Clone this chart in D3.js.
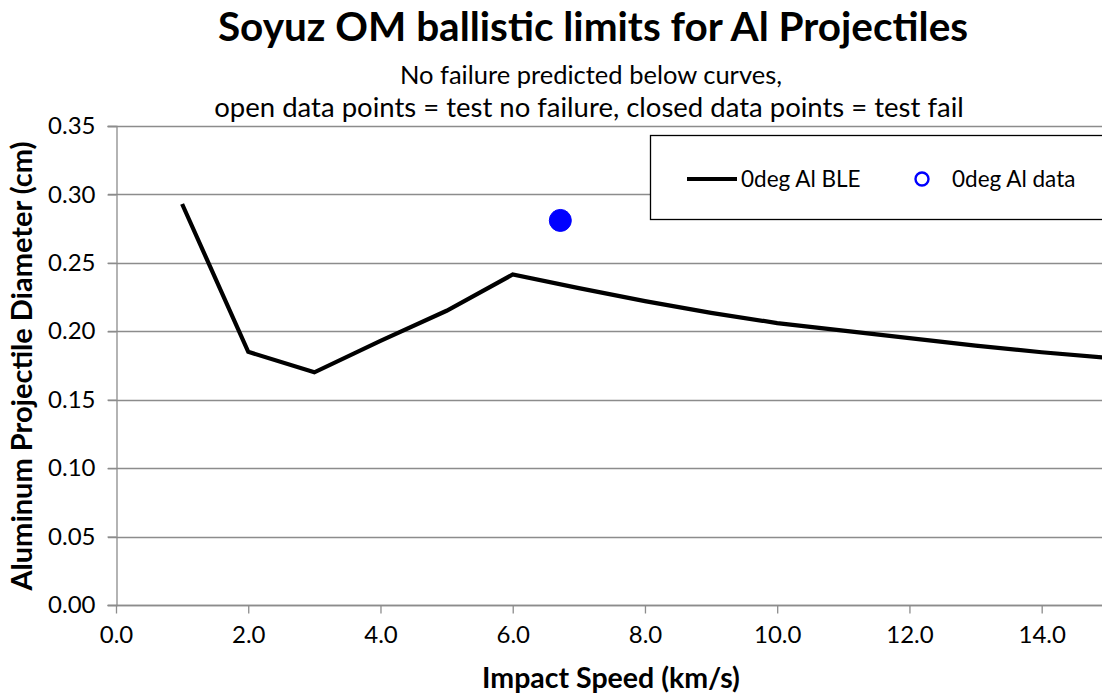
<!DOCTYPE html>
<html>
<head>
<meta charset="utf-8">
<script src="https://cdn.jsdelivr.net/npm/d3@7"></script>
<style>
  html, body { margin: 0; padding: 0; background: #fff; }
  svg { display: block; font-family: Lato, "Open Sans", sans-serif; }
</style>
</head>
<body>
<svg id="chart" width="1102" height="696"></svg>
<script>
// ballistic limit curve, 0 deg Al
var bleSpeed = [1, 2, 3, 4, 5, 6, 7, 8, 9, 10, 11, 12, 13, 14, 15];
var bleDiameter = [0.293, 0.185, 0.170, 0.193, 0.215, 0.2415, 0.2315, 0.222, 0.2135,
                   0.206, 0.2005, 0.195, 0.1895, 0.1847, 0.1805];

// test data (closed = fail)
var testSpeed = [6.72];
var testDiameter = [0.281];
var testFailed = [true];

var xTicks = [0, 2, 4, 6, 8, 10, 12, 14];
var yTicks = [0, 0.05, 0.10, 0.15, 0.20, 0.25, 0.30, 0.35];

var svg = d3.select('#chart');

var x = d3.scaleLinear().domain([0, 15]).range([116, 1107.8]);
var y = d3.scaleLinear().domain([0, 0.35]).range([605, 126]);

var gridColor = '#8c8c8c';

// gridlines
svg.append('g')
  .selectAll('line')
  .data(yTicks)
  .enter().append('line')
  .attr('x1', x(0) - 8)
  .attr('x2', 1102)
  .attr('y1', function(d) { return Math.round(y(d)) + 0.5; })
  .attr('y2', function(d) { return Math.round(y(d)) + 0.5; })
  .style('stroke', gridColor)
  .style('stroke-width', 1.3);

// y axis
var yAxis = d3.axisLeft(y).tickValues(yTicks).tickSize(9).tickPadding(12)
  .tickFormat(d3.format('.2f'));
var gy = svg.append('g').attr('transform', 'translate(' + (x(0) + 0.5) + ',0)').call(yAxis);

// x axis
var xAxis = d3.axisBottom(x).tickValues(xTicks).tickSize(8).tickPadding(12)
  .tickFormat(d3.format('.1f'));
var gx = svg.append('g').attr('transform', 'translate(0,' + (Math.round(y(0)) + 0.5) + ')').call(xAxis);

[gx, gy].forEach(function(g) {
  g.select('.domain').style('stroke', gridColor).style('stroke-width', 1.3);
  g.selectAll('.tick line').style('stroke', gridColor).style('stroke-width', 1.3);
  g.selectAll('.tick text')
    .style('font-family', 'Lato, sans-serif')
    .style('font-size', '24px')
    .style('fill', '#000');
});
gx.select('.domain').attr('d', 'M' + x(0) + ',0H1102');

// BLE curve
var line = d3.line()
  .x(function(d, i) { return x(bleSpeed[i]); })
  .y(function(d) { return y(d); });

svg.append('path')
  .datum(bleDiameter)
  .attr('d', line)
  .style('fill', 'none')
  .style('stroke', '#000')
  .style('stroke-width', 4.2)
  .style('stroke-linejoin', 'miter');

// test data points
svg.append('g')
  .selectAll('circle')
  .data(testSpeed)
  .enter().append('circle')
  .attr('cx', function(d) { return x(d); })
  .attr('cy', function(d, i) { return y(testDiameter[i]); })
  .attr('r', 11)
  .style('fill', function(d, i) { return testFailed[i] ? '#0000ff' : '#fff'; })
  .style('stroke', '#0000ff')
  .style('stroke-width', 1);

// legend
var legend = svg.append('g');
legend.append('rect')
  .attr('x', 650.5).attr('y', 135.5)
  .attr('width', 470).attr('height', 84)
  .style('fill', '#fff')
  .style('stroke', '#000')
  .style('stroke-width', 1.3);
legend.append('line')
  .attr('x1', 687).attr('x2', 737).attr('y1', 179).attr('y2', 179)
  .style('stroke', '#000').style('stroke-width', 4.2);
legend.append('text')
  .attr('x', 741).attr('y', 187)
  .style('font-size', '22.5px')
  .text('0deg Al BLE');
legend.append('circle')
  .attr('cx', 922).attr('cy', 179).attr('r', 6.5)
  .style('fill', '#fff').style('stroke', '#0000ff').style('stroke-width', 2.4);
legend.append('text')
  .attr('x', 952).attr('y', 187)
  .style('font-size', '22.5px')
  .text('0deg Al data');

// titles
svg.append('text')
  .attr('x', 593).attr('y', 41)
  .attr('text-anchor', 'middle')
  .style('font-size', '40.5px')
  .style('font-weight', 'bold')
  .text('Soyuz OM ballistic limits for Al Projectiles');

svg.append('text')
  .attr('x', 591).attr('y', 84)
  .attr('text-anchor', 'middle')
  .style('font-size', '25.5px')
  .text('No failure predicted below curves,');

svg.append('text')
  .attr('x', 589).attr('y', 117)
  .attr('text-anchor', 'middle')
  .style('font-size', '27.5px')
  .text('open data points = test no failure, closed data points = test fail');

svg.append('text')
  .attr('x', 611).attr('y', 688)
  .attr('text-anchor', 'middle')
  .style('font-size', '28.5px')
  .style('font-weight', 'bold')
  .text('Impact Speed (km/s)');

svg.append('text')
  .attr('transform', 'translate(32,366) rotate(-90)')
  .attr('text-anchor', 'middle')
  .style('font-size', '29px')
  .style('font-weight', 'bold')
  .text('Aluminum Projectile Diameter (cm)');
</script>
</body>
</html>
